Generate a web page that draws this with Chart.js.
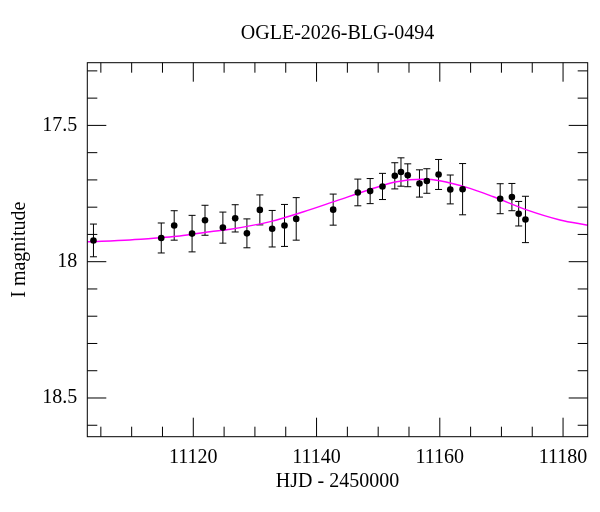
<!DOCTYPE html>
<html>
<head>
<meta charset="utf-8">
<script src="https://cdn.jsdelivr.net/npm/chart.js@4/dist/chart.umd.min.js"></script>
<style>
  html, body { margin: 0; padding: 0; background: #fff; }
  #wrap { width: 600px; height: 512px; }
</style>
</head>
<body>
<div id="wrap"><canvas id="lc" width="600" height="512"></canvas></div>
<script>
// observed photometry (HJD - 2450000, I mag, 1-sigma error)
const hjd = [11103.8, 11114.8, 11116.9, 11119.8, 11121.9, 11124.8, 11126.8, 11128.7, 11130.8, 11132.8,
             11134.8, 11136.7, 11142.7, 11146.7, 11148.7, 11150.7, 11152.7, 11153.7, 11154.8, 11156.7,
             11157.9, 11159.8, 11161.7, 11163.7, 11169.8, 11171.7, 11172.8, 11173.9];
const mag = [17.922, 17.913, 17.867, 17.897, 17.848, 17.875, 17.841, 17.896, 17.810, 17.879,
             17.867, 17.843, 17.809, 17.746, 17.741, 17.724, 17.685, 17.671, 17.683, 17.713,
             17.704, 17.680, 17.735, 17.734, 17.769, 17.763, 17.824, 17.845];
const magErr = [0.060, 0.055, 0.054, 0.067, 0.055, 0.057, 0.050, 0.053, 0.055, 0.067,
                0.077, 0.078, 0.057, 0.049, 0.046, 0.048, 0.048, 0.052, 0.042, 0.050,
                0.045, 0.055, 0.053, 0.094, 0.055, 0.050, 0.045, 0.085];

// model curve
const modelHjd = [11102.8, 11109.7, 11114.6, 11117.8, 11122.7, 11126.0, 11132.5, 11137.9, 11143.3,
                  11148.7, 11153.0, 11157.3, 11160.0, 11164.9, 11168.7, 11174.1, 11179.5, 11184.0];
const modelMag = [17.927, 17.920, 17.912, 17.906, 17.890, 17.881, 17.853, 17.817, 17.776,
                  17.735, 17.707, 17.698, 17.703, 17.731, 17.762, 17.810, 17.847, 17.866];

const xTickLabels = [11120, 11140, 11160, 11180];
const yTickLabels = [17.5, 18, 18.5];

const FONT = "'Liberation Serif', 'Times New Roman', serif";

// error bars drawn with the chart's own scales
const errorBars = {
    id: 'errorBars',
    beforeDatasetsDraw(chart) {
        const {ctx, scales: {x, y}} = chart;
        ctx.save();
        ctx.strokeStyle = '#000';
        ctx.lineWidth = 1;
        hjd.forEach((t, i) => {
            const px = x.getPixelForValue(t);
            const y1 = y.getPixelForValue(mag[i] - magErr[i]);
            const y2 = y.getPixelForValue(mag[i] + magErr[i]);
            ctx.beginPath();
            ctx.moveTo(px, y1); ctx.lineTo(px, y2);
            ctx.moveTo(px - 3.5, y1); ctx.lineTo(px + 3.5, y1);
            ctx.moveTo(px - 3.5, y2); ctx.lineTo(px + 3.5, y2);
            ctx.stroke();
        });
        ctx.restore();
    }
};

// box frame with inward major/minor ticks on all four sides
const frameTicks = {
    id: 'frameTicks',
    afterDraw(chart) {
        const {ctx, chartArea: a, scales: {x, y}} = chart;
        ctx.save();
        ctx.strokeStyle = '#000';
        ctx.lineWidth = 1;
        ctx.strokeRect(a.left, a.top, a.right - a.left, a.bottom - a.top);
        ctx.beginPath();
        for (let v = 11105; v <= 11180; v += 5) {
            const px = x.getPixelForValue(v);
            const len = v % 20 === 0 ? 19 : 10;
            ctx.moveTo(px, a.bottom); ctx.lineTo(px, a.bottom - len);
            ctx.moveTo(px, a.top); ctx.lineTo(px, a.top + len);
        }
        for (let i = 173; i <= 186; i++) {
            const py = y.getPixelForValue(i / 10);
            const len = i % 5 === 0 ? 19 : 10;
            ctx.moveTo(a.left, py); ctx.lineTo(a.left + len, py);
            ctx.moveTo(a.right, py); ctx.lineTo(a.right - len, py);
        }
        ctx.stroke();
        ctx.restore();
    }
};

new Chart(document.getElementById('lc'), {
    type: 'scatter',
    data: {
        datasets: [
            {
                label: 'data',
                data: hjd.map((t, i) => ({x: t, y: mag[i]})),
                backgroundColor: '#000',
                borderWidth: 0,
                pointRadius: 3.3,
                order: 1
            },
            {
                label: 'model',
                type: 'line',
                data: modelHjd.map((t, i) => ({x: t, y: modelMag[i]})),
                borderColor: '#ff00ff',
                borderWidth: 1.5,
                pointRadius: 0,
                fill: false,
                cubicInterpolationMode: 'monotone',
                order: 2
            }
        ]
    },
    options: {
        responsive: false,
        animation: false,
        devicePixelRatio: 1,
        layout: { padding: { left: 0, right: 12.3, top: 0, bottom: 0 } },
        plugins: {
            legend: { display: false },
            tooltip: { enabled: false },
            title: {
                display: true,
                text: 'OGLE-2026-BLG-0494',
                fullSize: false,
                color: '#000',
                font: { family: FONT, size: 20, weight: 'normal' },
                padding: { top: 22, bottom: 16.7 }
            }
        },
        scales: {
            x: {
                type: 'linear',
                min: 11102.8,
                max: 11184.0,
                grid: { display: false, drawTicks: false },
                border: { display: false },
                afterBuildTicks: s => { s.ticks = xTickLabels.map(v => ({value: v})); },
                afterFit: s => { s.height = 75.3; },
                ticks: {
                    color: '#000',
                    padding: 9.3,
                    maxRotation: 0,
                    font: { family: FONT, size: 20 },
                    callback: v => String(v)
                },
                title: {
                    display: true,
                    text: 'HJD - 2450000',
                    color: '#000',
                    font: { family: FONT, size: 20 },
                    padding: { top: 0, bottom: 18.3 }
                }
            },
            y: {
                type: 'linear',
                reverse: true,
                min: 17.27,
                max: 18.642,
                grid: { display: false, drawTicks: false },
                border: { display: false },
                afterBuildTicks: s => { s.ticks = yTickLabels.map(v => ({value: v})); },
                afterFit: s => { s.width = 87.3; },
                ticks: {
                    color: '#000',
                    padding: 10,
                    font: { family: FONT, size: 20 },
                    callback: v => String(v)
                },
                title: {
                    display: true,
                    text: 'I magnitude',
                    color: '#000',
                    font: { family: FONT, size: 20 },
                    padding: { top: 8, bottom: 0 }
                }
            }
        }
    },
    plugins: [errorBars, frameTicks]
});
</script>
</body>
</html>
